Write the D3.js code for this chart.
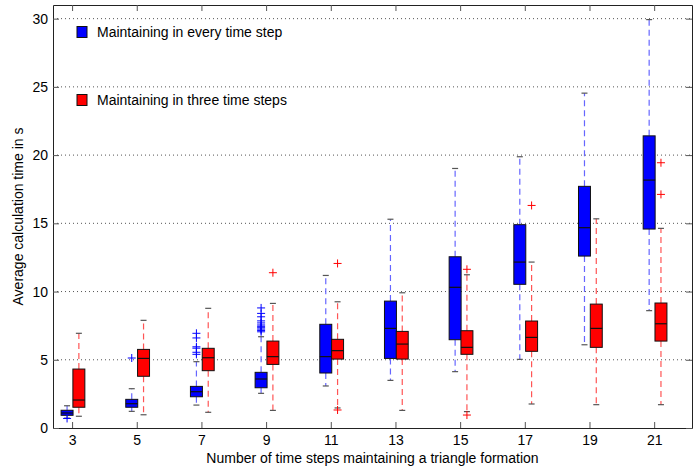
<!DOCTYPE html>
<head>
    <meta charset="utf-8">
    <style>
        body { margin: 0; background: #fff; font-family: "Liberation Sans", Arial, sans-serif; }
        .tick text { font-size: 14px; fill: #000; }
        .grid line { stroke: #555; stroke-dasharray: 1,3; }
    </style>
    <script src="https://d3js.org/d3.v7.min.js"></script>
</head>
<body>
<script>
    // time steps on the x axis
    const steps = [3, 5, 7, 9, 11, 13, 15, 17, 19, 21];

    // "Maintaining in every time step" (blue)
    const blueLo  = [0.72, 1.22, 1.68, 2.54, 3.08, 3.49, 4.13, 5.03, 6.10, 8.60];
    const blueQ1  = [0.93, 1.52, 2.29, 2.95, 4.03, 5.10, 6.47, 10.53, 12.60, 14.58];
    const blueMed = [1.10, 1.78, 2.66, 3.59, 5.23, 7.30, 10.31, 12.16, 14.68, 18.17];
    const blueQ3  = [1.30, 2.10, 3.05, 4.08, 7.60, 9.30, 12.55, 14.90, 17.71, 21.41];
    const blueHi  = [1.63, 2.88, 4.86, 6.69, 11.18, 15.30, 19.02, 19.88, 24.54, 29.93];
    const blueOut = [[0.70], [5.13], [5.40, 5.55, 5.85, 5.95, 6.60, 6.94],
        [7.05, 7.15, 7.25, 7.35, 7.45, 7.55, 7.70, 7.85, 8.15, 8.40, 8.80],
        [], [], [], [], [], []];

    // "Maintaining in three time steps" (red)
    const redLo  = [0.86, 0.97, 1.15, 1.29, 1.47, 1.29, 1.20, 1.76, 1.71, 1.71];
    const redQ1  = [1.52, 3.79, 4.20, 4.66, 5.05, 5.05, 5.40, 5.62, 5.91, 6.37];
    const redMed = [2.05, 5.10, 5.15, 5.23, 5.67, 6.15, 5.91, 6.64, 7.30, 7.64];
    const redQ3  = [4.32, 5.76, 5.84, 6.37, 6.50, 7.08, 7.13, 7.84, 9.08, 9.16];
    const redHi  = [6.94, 7.89, 8.77, 9.13, 9.25, 9.91, 11.23, 12.16, 15.33, 14.63];
    const redOut = [[], [], [], [11.38], [1.32, 12.06], [], [0.95, 11.63], [16.31], [], [17.12, 19.44]];

    const yTicks = [0, 5, 10, 15, 20, 25, 30];

    const W = 693, H = 470;
    const mLeft = 53, mTop = 5, mRight = 692, mBottom = 428;

    const x = d3.scaleLinear().domain([2.41, 22.17]).range([mLeft, mRight]);
    const y = d3.scaleLinear().domain([0, 31]).range([mBottom, mTop]);

    const svg = d3.select('body').append('svg')
        .attr('width', W).attr('height', H);

    // horizontal dotted grid
    svg.append('g').attr('class', 'grid')
        .selectAll('line').data(yTicks.filter(v => v > 0)).join('line')
        .attr('x1', mLeft).attr('x2', mRight)
        .attr('y1', d => y(d)).attr('y2', d => y(d));

    const series = [
        {color: '#0000ff', whisk: '#6666ff', off: -0.155, lo: blueLo, q1: blueQ1, med: blueMed, q3: blueQ3, hi: blueHi, out: blueOut},
        {color: '#ff0000', whisk: '#ff5555', off: 0.21, lo: redLo, q1: redQ1, med: redMed, q3: redQ3, hi: redHi, out: redOut}
    ];
    const boxW = x(0.37) - x(0);
    const capW = 6;

    series.forEach(s => {
        const rows = steps.map((st, i) => ({
            cx: x(st + s.off), lo: s.lo[i], q1: s.q1[i], med: s.med[i], q3: s.q3[i], hi: s.hi[i], out: s.out[i]
        }));
        const g = svg.append('g');
        const b = g.selectAll('g').data(rows).join('g');

        // whiskers
        b.append('line')
            .attr('x1', d => d.cx).attr('x2', d => d.cx)
            .attr('y1', d => y(d.q3)).attr('y2', d => y(d.hi))
            .attr('stroke', s.whisk).attr('stroke-width', 1.2).attr('stroke-dasharray', '6,4');
        b.append('line')
            .attr('x1', d => d.cx).attr('x2', d => d.cx)
            .attr('y1', d => y(d.q1)).attr('y2', d => y(d.lo))
            .attr('stroke', s.whisk).attr('stroke-width', 1.2).attr('stroke-dasharray', '6,4');
        // caps
        ['lo', 'hi'].forEach(k => {
            b.append('line')
                .attr('x1', d => d.cx - capW / 2).attr('x2', d => d.cx + capW / 2)
                .attr('y1', d => y(d[k])).attr('y2', d => y(d[k]))
                .attr('stroke', '#555').attr('stroke-width', 1.2);
        });
        // box
        b.append('rect')
            .attr('x', d => d.cx - boxW / 2).attr('width', boxW)
            .attr('y', d => y(d.q3)).attr('height', d => y(d.q1) - y(d.q3))
            .attr('fill', s.color).attr('stroke', '#111').attr('stroke-width', 1);
        b.append('line')
            .attr('x1', d => d.cx - boxW / 2).attr('x2', d => d.cx + boxW / 2)
            .attr('y1', d => y(d.med)).attr('y2', d => y(d.med))
            .attr('stroke', '#111').attr('stroke-width', 1.2);
        // outliers
        b.selectAll('path.out').data(d => d.out.map(v => ({cx: d.cx, v}))).join('path')
            .attr('class', 'out')
            .attr('d', d => `M${d.cx - 4},${y(d.v)}H${d.cx + 4}M${d.cx},${y(d.v) - 4}V${y(d.v) + 4}`)
            .attr('stroke', s.color).attr('stroke-width', 1);
    });

    // axes
    const xAxis = d3.axisBottom(x).tickValues(steps).tickSize(-6).tickPadding(7).tickSizeOuter(0);
    const xg = svg.append('g').attr('transform', `translate(0,${mBottom})`).call(xAxis);
    const xTop = d3.axisTop(x).tickValues(steps).tickSize(-6).tickFormat('').tickSizeOuter(0);
    const xtg = svg.append('g').attr('transform', `translate(0,${mTop})`).call(xTop);
    const yAxis = d3.axisLeft(y).tickValues(yTicks).tickSize(-6).tickPadding(5).tickSizeOuter(0);
    const yg = svg.append('g').attr('transform', `translate(${mLeft},0)`).call(yAxis);
    const yRight = d3.axisRight(y).tickValues(yTicks).tickSize(-6).tickFormat('').tickSizeOuter(0);
    const yrg = svg.append('g').attr('transform', `translate(${mRight},0)`).call(yRight);
    [xg, xtg, yg, yrg].forEach(g => {
        g.selectAll('.domain').attr('stroke', '#222');
        g.selectAll('.tick line').attr('stroke', '#555');
        g.selectAll('text').attr('font-family', '"Liberation Sans", Arial, sans-serif');
    });

    // axis titles
    svg.append('text')
        .attr('x', (mLeft + mRight) / 2).attr('y', 463)
        .attr('text-anchor', 'middle').style('font-size', '14px')
        .text('Number of time steps maintaining a triangle formation');
    svg.append('text')
        .attr('transform', `translate(23,${(mTop + mBottom) / 2}) rotate(-90)`)
        .attr('text-anchor', 'middle').style('font-size', '14px')
        .text('Average calculation time in s');

    // legend
    const legend = [
        {label: 'Maintaining in every time step', color: '#0000ff', yy: 32},
        {label: 'Maintaining in three time steps', color: '#ff0000', yy: 100}
    ];
    const lg = svg.append('g').selectAll('g').data(legend).join('g');
    lg.append('rect')
        .attr('x', 77).attr('y', d => d.yy - 5.5).attr('width', 10).attr('height', 11)
        .attr('fill', d => d.color).attr('stroke', '#111');
    lg.append('text')
        .attr('x', 97).attr('y', d => d.yy + 5)
        .style('font-size', '14px')
        .text(d => d.label);
</script>
</body>
